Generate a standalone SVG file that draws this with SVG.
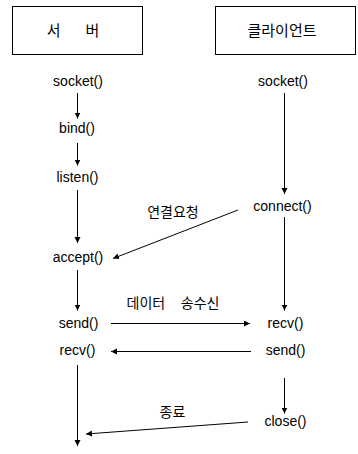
<svg xmlns="http://www.w3.org/2000/svg" width="358" height="454" viewBox="0 0 358 454">
<defs>
<style>
.box{fill:#fff;stroke:#000;stroke-width:1}
.t{font-family:"Liberation Sans",Arial,sans-serif;font-size:14px;fill:#000;text-anchor:middle}
.k{font-family:"Liberation Sans","Noto Sans CJK KR",sans-serif;font-size:14px;fill:#000;text-anchor:middle}
.h{font-family:"Liberation Sans","Noto Sans CJK KR",sans-serif;font-size:15px;fill:#000;text-anchor:middle}
.c{stroke:#000;stroke-width:1;fill:none;marker-end:url(#ah)}
</style>
<marker id="ah" markerUnits="userSpaceOnUse" markerWidth="8" markerHeight="8" refX="6" refY="3" orient="auto">
<path d="M0,0 L6,3 L0,6 z" fill="#000"/>
</marker>
</defs>
<rect width="358" height="454" fill="#fff"/>
<g id="server">
<rect class="box" x="12.5" y="6.5" width="130" height="48"/>
<text class="h" x="73" y="36" xml:space="preserve">서      버</text>
</g>
<g id="client">
<rect class="box" x="215.5" y="6.5" width="140" height="48"/>
<text class="h" x="282" y="36">클라이언트</text>
</g>
<g id="s-socket"><text class="t" x="78" y="86">socket()</text></g>
<g id="s-bind"><text class="t" x="77" y="132.5">bind()</text></g>
<g id="s-listen"><text class="t" x="77.5" y="181.5">listen()</text></g>
<g id="s-accept"><text class="t" x="78" y="262">accept()</text></g>
<g id="s-send"><text class="t" x="78.5" y="327.5">send()</text></g>
<g id="s-recv"><text class="t" x="77.5" y="355">recv()</text></g>
<g id="c-socket"><text class="t" x="283" y="86">socket()</text></g>
<g id="c-connect"><text class="t" x="282.5" y="211">connect()</text></g>
<g id="c-recv"><text class="t" x="285.5" y="327.5">recv()</text></g>
<g id="c-send"><text class="t" x="285.5" y="355">send()</text></g>
<g id="c-close"><text class="t" x="285.5" y="425.5">close()</text></g>
<g id="labels">
<text class="k" x="173" y="217">연결요청</text>
<text class="k" x="173" y="307.5" xml:space="preserve">데이터    송수신</text>
<text class="k" x="172.5" y="417">종료</text>
</g>
<g id="connectors">
<line class="c" x1="77.5" y1="93" x2="77.5" y2="118.5"/>
<line class="c" x1="77.5" y1="143" x2="77.5" y2="165.5"/>
<line class="c" x1="77.5" y1="190" x2="77.5" y2="243"/>
<line class="c" x1="77.5" y1="270" x2="77.5" y2="310.5"/>
<line class="c" x1="77.5" y1="365" x2="77.5" y2="446"/>
<line class="c" x1="284.5" y1="93" x2="284.5" y2="194"/>
<line class="c" x1="284.5" y1="217" x2="284.5" y2="310.5"/>
<line class="c" x1="284.5" y1="378" x2="284.5" y2="413.5"/>
<line class="c" x1="238" y1="210" x2="113" y2="258.5"/>
<line class="c" x1="111" y1="323.5" x2="250" y2="323.5"/>
<line class="c" x1="251" y1="351.5" x2="111" y2="351.5"/>
<line class="c" x1="248" y1="422" x2="86" y2="434"/>
</g>
</svg>
